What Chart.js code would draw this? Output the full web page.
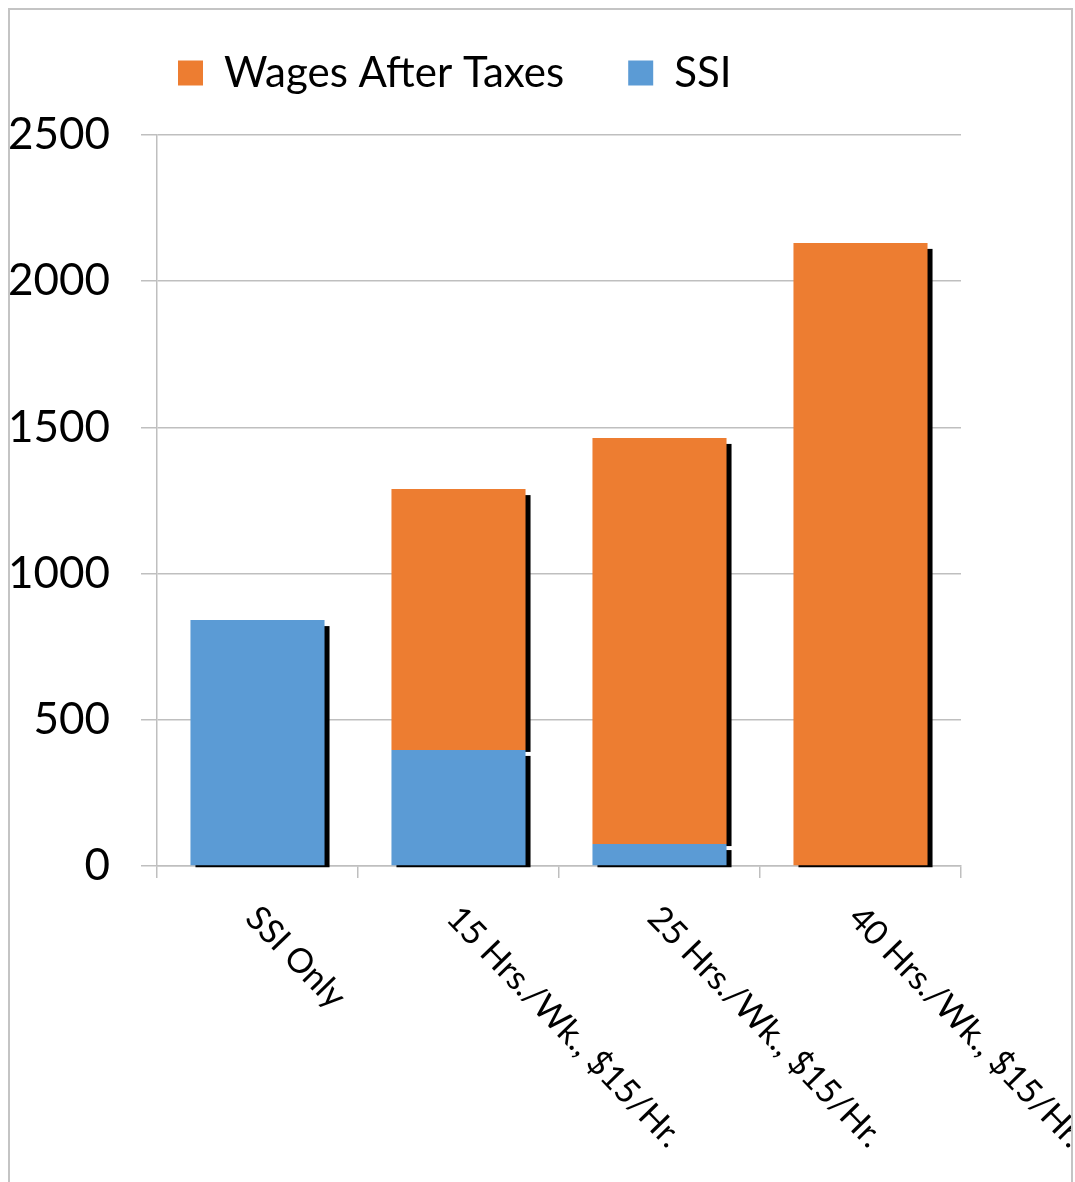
<!DOCTYPE html>
<html>
<head>
<meta charset="utf-8">
<script src="https://cdn.jsdelivr.net/npm/chart.js@4.4.1/dist/chart.umd.min.js"></script>
<style>
  html, body { margin: 0; padding: 0; background: #fff; }
  #wrap { position: relative; width: 1075px; height: 1182px; }
  canvas { display: block; }
</style>
</head>
<body>
<div id="wrap"><canvas id="c" width="1075" height="1182"></canvas></div>
<script>
const categories = ['SSI Only', '15 Hrs./Wk., $15/Hr.', '25 Hrs./Wk., $15/Hr.', '40 Hrs./Wk., $15/Hr.'];
const ssiValues = [841, 397, 75, 0];
const wagesValues = [0, 892, 1389, 2131];
const seriesNames = ['SSI', 'Wages After Taxes'];
const yTickValues = [0, 500, 1000, 1500, 2000, 2500];

const FONT = 'Lato, "Open Sans", sans-serif';

const shadowPlugin = {
  id: 'barShadow',
  beforeDatasetsDraw(chart) {
    const ctx = chart.ctx;
    ctx.save();
    ctx.fillStyle = '#000';
    chart.data.datasets.forEach((ds, di) => {
      const meta = chart.getDatasetMeta(di);
      meta.data.forEach((el, i) => {
        if (!ds.data[i]) return;
        const p = el.getProps(['x', 'y', 'base', 'width'], true);
        const left = p.x - p.width / 2;
        const top = Math.min(p.y, p.base);
        const h = Math.abs(p.base - p.y);
        ctx.fillRect(left + 5, top + 6, p.width, h - 4);
      });
    });
    ctx.restore();
  }
};

const xLabelPlugin = {
  id: 'xLabels',
  afterDraw(chart) {
    const ctx = chart.ctx;
    const xs = chart.scales.x;
    ctx.save();
    ctx.beginPath();
    ctx.rect(0, 0, 1071, 1182);
    ctx.clip();
    ctx.font = '34px ' + FONT;
    ctx.fillStyle = '#000';
    ctx.textAlign = 'left';
    ctx.textBaseline = 'middle';
    categories.forEach((lab, i) => {
      const x = xs.getPixelForValue(i);
      ctx.save();
      ctx.translate(x - 6, xs.top + 46);
      ctx.rotate(Math.PI / 4 + 0.015);
      ctx.fillText(lab, 0, 0);
      ctx.restore();
    });
    ctx.restore();
    // frame
    ctx.save();
    ctx.strokeStyle = '#c4c4c4';
    ctx.lineWidth = 2;
    ctx.beginPath();
    ctx.moveTo(9, 1182);
    ctx.lineTo(9, 9);
    ctx.lineTo(1072, 9);
    ctx.lineTo(1072, 1182);
    ctx.stroke();
    ctx.restore();
  }
};

new Chart(document.getElementById('c'), {
  type: 'bar',
  data: {
    labels: categories,
    datasets: [
      { label: seriesNames[0], data: ssiValues, backgroundColor: '#5B9BD5', borderWidth: 0 },
      { label: seriesNames[1], data: wagesValues, backgroundColor: '#ED7D31', borderWidth: 0 }
    ]
  },
  options: {
    responsive: false,
    animation: false,
    devicePixelRatio: 1,
    layout: { padding: { top: 31, left: 0, right: 114, bottom: 0 } },
    datasets: { bar: { categoryPercentage: 1.0, barPercentage: 0.667 } },
    plugins: {
      tooltip: { enabled: false },
      subtitle: {
        display: true,
        text: '',
        weight: 500,
        position: 'top',
        font: { size: 1, lineHeight: 1 },
        padding: { top: 0, bottom: 30 }
      },
      legend: {
        position: 'top',
        align: 'start',
        fullSize: false,
        labels: {
          sort: (a, b) => b.datasetIndex - a.datasetIndex,
          generateLabels(chart) {
            const items = Chart.defaults.plugins.legend.labels.generateLabels(chart);
            items.forEach(it => { if (it.datasetIndex === 1) it.text = it.text + '    '; });
            return items;
          },
          boxWidth: 25,
          boxHeight: 25,
          padding: 21,
          color: '#000',
          font: { family: FONT, size: 42 }
        }
      }
    },
    scales: {
      x: {
        stacked: true,
        grid: { display: true, drawOnChartArea: false, drawTicks: true, tickLength: 12, color: '#bfbfbf', lineWidth: 1.5 },
        border: { display: true, color: '#bfbfbf', width: 1.5 },
        ticks: { display: false },
        afterFit(scale) { scale.height = 1182 - 866; }
      },
      y: {
        stacked: true,
        min: 0,
        max: 2500,
        afterBuildTicks(scale) { scale.ticks = yTickValues.map(v => ({ value: v })); },
        grid: { color: '#bfbfbf', lineWidth: 1.5, tickLength: 16 },
        border: { display: true, color: '#bfbfbf', width: 1.5 },
        ticks: { color: '#000', padding: 31, font: { family: FONT, size: 44 }, callback: v => String(v) },
        afterFit(scale) { scale.width = 157; }
      }
    }
  },
  plugins: [shadowPlugin, xLabelPlugin]
});
</script>
</body>
</html>
